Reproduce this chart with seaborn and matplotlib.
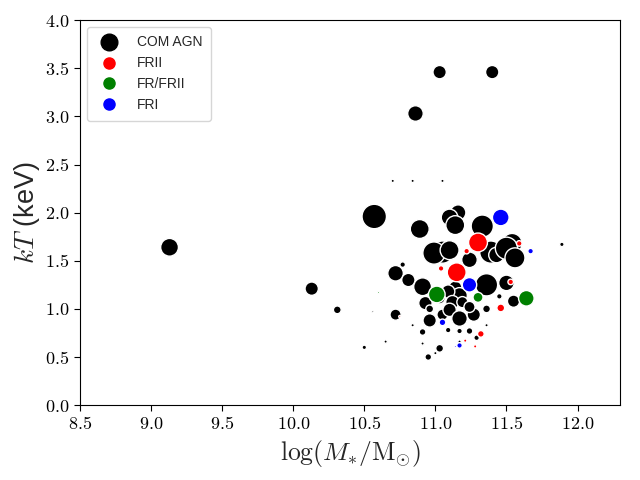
import matplotlib
matplotlib.use("Agg")
import matplotlib.pyplot as plt
import seaborn as sns
import pandas as pd
from matplotlib.lines import Line2D
from matplotlib.ticker import FuncFormatter

# COM AGN
com_mass = [9.13, 10.13, 10.31, 10.50, 10.57, 10.86, 11.03, 11.40, 10.70, 10.84,
            11.05, 10.89, 11.16, 11.10, 11.14, 11.05, 10.99, 11.10, 11.24, 11.33,
            11.39, 11.43, 11.54, 11.50, 11.56, 11.36, 11.50, 11.55, 11.45, 11.36,
            11.27, 11.36, 11.29, 10.77, 10.72, 10.81, 10.91, 11.14, 11.17, 11.09,
            10.93, 11.03, 11.12, 11.19, 10.96, 11.05, 11.10, 11.17, 11.24, 10.72,
            10.96, 11.09, 10.91, 11.17, 11.24, 10.65, 10.91, 11.03, 10.95, 11.00,
            11.17, 10.84, 10.56, 11.89]
com_kt = [1.64, 1.21, 0.99, 0.60, 1.96, 3.03, 3.46, 3.46, 2.33, 2.33,
          2.33, 1.83, 2.00, 1.95, 1.87, 1.59, 1.58, 1.61, 1.51, 1.86,
          1.59, 1.56, 1.68, 1.63, 1.53, 1.25, 1.27, 1.08, 1.13, 1.00,
          0.94, 0.83, 0.70, 1.46, 1.37, 1.30, 1.23, 1.22, 1.14, 1.18,
          1.06, 1.11, 1.07, 1.07, 1.00, 0.94, 0.99, 0.90, 1.02, 0.94,
          0.88, 0.78, 0.76, 0.77, 0.77, 0.66, 0.64, 0.59, 0.50, 0.54,
          0.66, 0.83, 0.97, 1.67]
com_size = [16, 12, 7, 4, 22, 14, 12, 12, 3, 3,
            3, 17, 14, 15, 17, 20, 20, 17, 14, 20,
            20, 14, 18, 20, 18, 20, 14, 11, 5, 7,
            12, 3, 5, 5, 14, 12, 16, 12, 14, 12,
            12, 10, 12, 10, 7, 10, 12, 14, 10, 10,
            12, 5, 6, 5, 6, 3, 3, 7, 6, 3,
            3, 3, 2, 4]

# FRII
frii_mass = [11.30, 11.15, 11.22, 11.04, 11.59, 11.53, 11.46, 11.32, 11.28, 11.21, 10.75]
frii_kt = [1.69, 1.38, 1.60, 1.42, 1.68, 1.28, 1.01, 0.74, 0.61, 0.67, 0.92]
frii_size = [17, 17, 5, 5, 5, 5, 7, 6, 3, 3, 2]

# FR/FRII
frfrii_mass = [11.01, 11.30, 11.64, 10.60]
frfrii_kt = [1.15, 1.12, 1.11, 1.17]
frfrii_size = [15, 9, 14, 2]

# FRI
fri_mass = [11.46, 11.24, 11.05, 11.17, 11.14, 11.67]
fri_kt = [1.95, 1.25, 0.86, 0.62, 0.61, 1.60]
fri_size = [15, 13, 6, 5, 2, 5]

groups = [
    ("COM AGN", com_mass, com_kt, com_size, "black"),
    ("FRII", frii_mass, frii_kt, frii_size, "red"),
    ("FR/FRII", frfrii_mass, frfrii_kt, frfrii_size, "green"),
    ("FRI", fri_mass, fri_kt, fri_size, "blue"),
]

sns.set_style("ticks")
plt.rcParams["mathtext.fontset"] = "cm"
plt.rcParams["font.family"] = ["Liberation Sans", "DejaVu Sans"]

fig, ax = plt.subplots(figsize=(6.4, 4.8), dpi=100)

for name, mass, kt, size, color in groups:
    df = pd.DataFrame({"mass": mass, "kt": kt})
    # marker diameter (px) -> area in points^2
    s = [(d * 0.8) ** 2 for d in size]
    sns.scatterplot(data=df, x="mass", y="kt", s=s, color=color,
                    edgecolor="white", linewidth=1, ax=ax, legend=False)

ax.set_xlim(8.5, 12.3)
ax.set_ylim(0, 4.0)
ax.set_xticks([8.5, 9.0, 9.5, 10.0, 10.5, 11.0, 11.5, 12.0])
ax.set_yticks([0.0, 0.5, 1.0, 1.5, 2.0, 2.5, 3.0, 3.5, 4.0])
fmt = FuncFormatter(lambda v, p: r"$%.1f$" % v)
ax.xaxis.set_major_formatter(fmt)
ax.yaxis.set_major_formatter(fmt)
ax.tick_params(labelsize=13, colors="black", length=4)
for sp in ax.spines.values():
    sp.set_color("black")

ax.set_xlabel(r"$\log(M_{*}/\mathrm{M}_{\odot})$", fontsize=18.5)
ax.set_ylabel(r"$kT$ (keV)", fontsize=19.5, labelpad=2)

handles = [
    Line2D([], [], marker="o", ls="", color="black", markersize=12),
    Line2D([], [], marker="o", ls="", color="red", markersize=8),
    Line2D([], [], marker="o", ls="", color="green", markersize=8),
    Line2D([], [], marker="o", ls="", color="blue", markersize=8),
]
ax.legend(handles, [g[0] for g in groups], loc="upper left", fontsize=10,
          frameon=True, borderpad=0.6, handletextpad=1.0)

fig.subplots_adjust(left=0.125, right=0.969, bottom=0.156, top=0.958)
plt.savefig("out.png", dpi=100)
